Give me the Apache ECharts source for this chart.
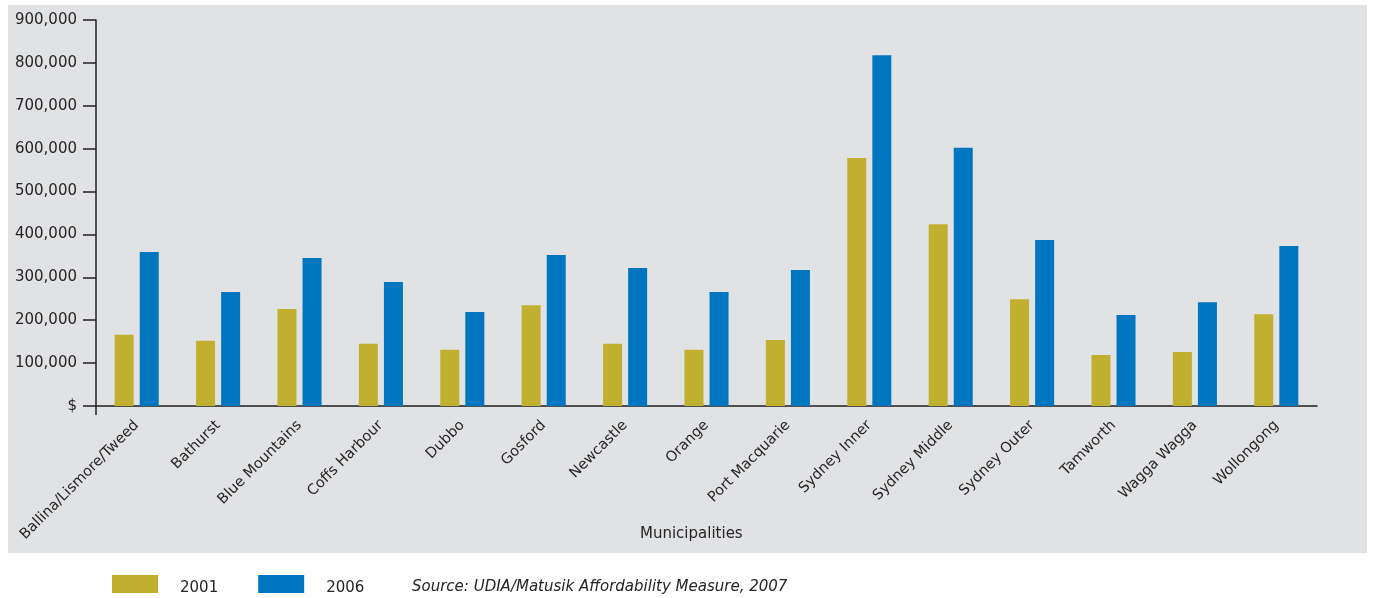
<!DOCTYPE html>
<html>
<head>
<meta charset="utf-8">
<script src="https://cdn.jsdelivr.net/npm/echarts@6/dist/echarts.min.js"></script>
<style>
html,body{margin:0;padding:0;background:#fff;}
#chart{width:1375px;height:598px;}
</style>
</head>
<body>
<div id="chart"></div>
<script>
const categories = ['Ballina/Lismore/Tweed','Bathurst','Blue Mountains','Coffs Harbour','Dubbo','Gosford','Newcastle','Orange','Port Macquarie','Sydney Inner','Sydney Middle','Sydney Outer','Tamworth','Wagga Wagga','Wollongong'];
const values2001 = [166000,152000,226000,145000,131000,235000,145000,131000,154000,578000,424000,249000,119000,126000,214000];
const values2006 = [359000,266000,345000,289000,219000,352000,322000,266000,317000,818000,602000,387000,212000,242000,373000];
const seriesNames = ['2001','2006'];
const xAxisTitle = 'Municipalities';
const sourceText = 'Source: UDIA/Matusik Affordability Measure, 2007';

const FONT = 'DejaVu Sans';
const TXT = '#262425';
const chart = echarts.init(document.getElementById('chart'), null, {renderer:'canvas'});
chart.setOption({
  animation:false,
  backgroundColor:'#ffffff',
  textStyle:{fontFamily:FONT},
  graphic:[
    {type:'rect', z:-100, shape:{x:8,y:5,width:1359,height:548}, style:{fill:'#e1e2e4'}},
    {type:'line', shape:{x1:96,y1:406,x2:96,y2:415}, style:{stroke:'#231f20', lineWidth:1.5}},
    {type:'text', left:640, top:527, style:{text:xAxisTitle, font:'15px "DejaVu Sans"', fill:TXT}},
    {type:'text', left:412, top:580, style:{text:sourceText, font:'italic 15px "DejaVu Sans"', fill:TXT}}
  ],
  grid:{left:96, right:58, top:20, bottom:192, containLabel:false},
  legend:{
    data:seriesNames, left:112, top:575, padding:0, itemWidth:46, itemHeight:18, itemGap:40, icon:'rect',
    formatter:function(n){ return '{t|' + n + '}'; },
    textStyle:{fontFamily:FONT, fontSize:15, color:TXT,
      rich:{t:{fontFamily:FONT, fontSize:15, color:TXT, padding:[8,0,0,17]}}}
  },
  xAxis:{
    type:'category', data:categories,
    axisLine:{lineStyle:{color:'#231f20', width:1.5}},
    axisTick:{alignWithLabel:true, length:9, lineStyle:{color:'#231f20', width:1.5}},
    axisLabel:{rotate:45, interval:0, margin:17, fontFamily:FONT, fontSize:14.5, color:TXT}
  },
  yAxis:{
    type:'value', min:0, max:900000, interval:100000,
    axisLine:{show:true, lineStyle:{color:'#231f20', width:1.5}},
    axisTick:{show:true, length:13, lineStyle:{color:'#231f20', width:1.5}},
    splitLine:{show:false},
    axisLabel:{margin:19, fontFamily:FONT, fontSize:15, color:TXT,
      formatter:function(v){ return v===0 ? '$' : String(v).replace(/\B(?=(\d{3})+(?!\d))/g, ','); }}
  },
  series:[
    {name:seriesNames[0], type:'bar', data:values2001, barWidth:19, barGap:'32%', itemStyle:{color:'#c1b030'}},
    {name:seriesNames[1], type:'bar', data:values2006, barWidth:19, barGap:'32%', itemStyle:{color:'#0076c0'}}
  ]
});
</script>
</body>
</html>
